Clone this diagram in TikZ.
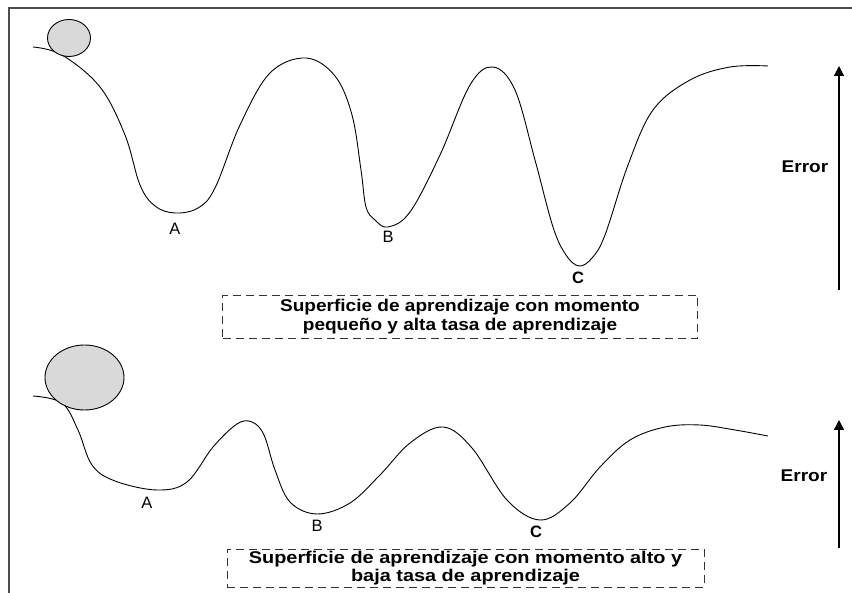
\documentclass[tikz,border=0pt]{standalone}
\usepackage{fontspec}
\setmainfont{Liberation Sans}
\newfontfamily\boxfont[FakeStretch=1.12]{Liberation Sans}
\newfontfamily\boxfontb[FakeStretch=1.17]{Liberation Sans}
\usetikzlibrary{arrows.meta,shapes.geometric}
\definecolor{ballgray}{HTML}{D9D9D9}
\tikzset{
  frameline/.style={line width=1.3pt, draw=black!70},
  surf/.style={line width=0.9pt, smooth, tension=0.6},
  ball/.style={ellipse, draw=black, line width=0.9pt, fill=ballgray, inner sep=0pt},
  dbox/.style={draw=black!80, line width=0.9pt, dash pattern=on 8pt off 5pt, align=center, inner sep=0pt},
  ptlabel/.style={font=\fontsize{16.5}{18}\selectfont, inner sep=0pt},
  ptlabelb/.style={font=\bfseries\fontsize{16.5}{18}\selectfont, inner sep=0pt},
  errlabel/.style={font=\boxfont\bfseries\fontsize{17}{19}\selectfont, inner sep=0pt},
  errarrow/.style={line width=1.3pt, -{Triangle[length=10pt,width=10pt]}}
}
\begin{document}
\begin{tikzpicture}[x=1pt,y=-1pt]
\useasboundingbox (0,0) rectangle (852,593);
\draw[frameline] (9,593) -- (9,8) -- (852,8);

% ---------- top panel ----------
\draw[surf] plot coordinates {(33,47) (62,55) (100,87) (125,135) (140,185) (155,206)
  (175,213) (198,208) (215,188) (240,125) (270,73) (306,58) (335,76) (352,115) (361,170)
  (366,207) (375,220) (388,227) (410,212) (440,155) (470,85) (493,67) (515,90) (535,160)
  (553,227) (566,255) (579,266) (592,258) (605,235) (628,165) (653,110) (690,80) (730,67) (768,66)};
\node[ball, minimum width=43pt, minimum height=37pt] (ball1) at (69,38) {};
\node[ptlabel] (A1) at (175,229) {A};
\node[ptlabel] (B1) at (388,237) {B};
\node[ptlabelb] (C1) at (578,278) {C};
\node[dbox, minimum width=475pt, minimum height=43pt,
  font=\boxfont\bfseries\fontsize{17}{19}\selectfont] (box1) at (460,316.5)
  {Superficie de aprendizaje con momento\\peque\~no y alta tasa de aprendizaje};
\coordinate (e1b) at (839,290);
\coordinate (e1t) at (839,66);
\draw[errarrow] (e1b) -- (e1t);
\node[errlabel] (err1) at (805,167) {Error};

% ---------- bottom panel ----------
\draw[surf] plot coordinates {(33,396) (62,403) (78,430) (92,465) (115,481) (157,490)
  (187,482) (213,447) (237,424) (252,422) (264,435) (275,470) (290,502) (317,514)
  (350,503) (380,475) (410,443) (443,427) (472,448) (507,500) (540,520) (570,503)
  (600,467) (630,440) (665,427) (700,425) (735,430) (768,436)};
\node[ball, minimum width=79pt, minimum height=65pt] (ball2) at (84.5,377.5) {};
\node[ptlabel] (A2) at (147,503) {A};
\node[ptlabel] (B2) at (317,526) {B};
\node[ptlabelb] (C2) at (536,532) {C};
\node[dbox, minimum width=477pt, minimum height=38pt,
  font=\boxfontb\bfseries\fontsize{17}{18.5}\selectfont] (box2) at (465.5,568)
  {Superficie de aprendizaje con momento alto y\\baja tasa de aprendizaje};
\coordinate (e2b) at (839,548);
\coordinate (e2t) at (839,420);
\draw[errarrow] (e2b) -- (e2t);
\node[errlabel] (err2) at (804,476) {Error};
\end{tikzpicture}
\end{document}
